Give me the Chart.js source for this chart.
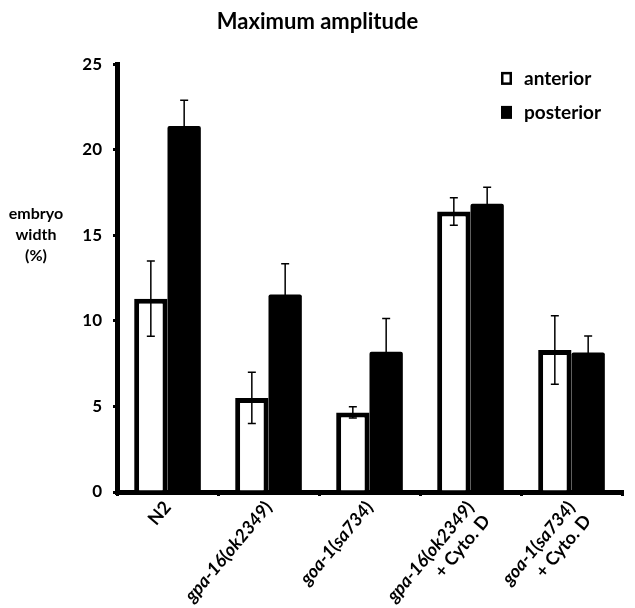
<!DOCTYPE html>
<html>
<head>
<meta charset="utf-8">
<script src="https://cdn.jsdelivr.net/npm/chart.js@4"></script>
<style>
  html, body { margin: 0; padding: 0; background: #fff; }
  #wrap { width: 635px; height: 608px; }
</style>
</head>
<body>
<div id="wrap"><canvas id="amplitudeChart" width="635" height="608"></canvas></div>
<script>
// values (percent of embryo width)
const categories = [
    ['N2'],
    ['gpa-16(ok2349)'],
    ['goa-1(sa734)'],
    ['gpa-16(ok2349)', '+ Cyto. D'],
    ['goa-1(sa734)', '+ Cyto. D']
];
const anterior = [11.3, 5.5, 4.65, 16.4, 8.3];
const anteriorErr = [2.2, 1.5, 0.33, 0.8, 2.0];
const posterior = [21.4, 11.55, 8.2, 16.85, 8.15];
const posteriorErr = [1.5, 1.8, 1.95, 0.97, 0.97];
const yTicks = [0, 5, 10, 15, 20, 25];

const FONT = 'Lato, "Open Sans", sans-serif';

// error bars on top of each bar
const errorBars = {
    id: 'errorBars',
    afterDatasetsDraw(chart) {
        const ctx = chart.ctx;
        const y = chart.scales.y;
        chart.data.datasets.forEach((ds, di) => {
            const meta = chart.getDatasetMeta(di);
            meta.data.forEach((bar, i) => {
                const v = ds.data[i], e = ds.errors[i];
                const top = y.getPixelForValue(v + e);
                const bot = y.getPixelForValue(v - e);
                ctx.save();
                ctx.strokeStyle = '#000';
                ctx.lineWidth = 1.5;
                ctx.beginPath();
                ctx.moveTo(bar.x, top); ctx.lineTo(bar.x, bot);
                ctx.moveTo(bar.x - 4, top); ctx.lineTo(bar.x + 4, top);
                ctx.moveTo(bar.x - 4, bot); ctx.lineTo(bar.x + 4, bot);
                ctx.stroke();
                ctx.restore();
            });
        });
    }
};

// rotated category labels, gene names in italics
function runs(line) {
    if (line.indexOf('(') < 0) return [[line, false]];
    const out = [];
    line.split(/([()])/).forEach(p => {
        if (p) out.push([p, p !== '(' && p !== ')']);
    });
    return out;
}
const xLabels = {
    id: 'xLabels',
    afterDraw(chart) {
        const ctx = chart.ctx;
        const x = chart.scales.x;
        const size = 18, lineH = 21;
        categories.forEach((lines, i) => {
            const px = x.getPixelForValue(i);
            ctx.save();
            ctx.translate(px, x.top + 12);
            ctx.rotate(-50 * Math.PI / 180);
            ctx.fillStyle = '#000';
            ctx.textBaseline = 'middle';
            lines.forEach((line, j) => {
                const parts = runs(line);
                let w = 0;
                parts.forEach(r => {
                    ctx.font = (r[1] ? 'italic ' : '') + 'bold ' + size + 'px ' + FONT;
                    w += ctx.measureText(r[0]).width;
                });
                let cx = -w;
                parts.forEach(r => {
                    ctx.font = (r[1] ? 'italic ' : '') + 'bold ' + size + 'px ' + FONT;
                    ctx.fillText(r[0], cx, j * lineH);
                    cx += ctx.measureText(r[0]).width;
                });
            });
            ctx.restore();
        });
    }
};

// y title (horizontal) and legend inside the plot
const extras = {
    id: 'extras',
    afterDraw(chart) {
        const ctx = chart.ctx;
        const a = chart.chartArea;
        ctx.save();
        ctx.fillStyle = '#000';
        ctx.font = 'bold 16px ' + FONT;
        ctx.textAlign = 'center';
        ctx.textBaseline = 'middle';
        ['embryo', 'width', '(%)'].forEach((t, i) => ctx.fillText(t, 36, a.top + 149 + i * 21));

        ctx.font = 'bold 19px ' + FONT;
        ctx.textAlign = 'left';
        chart.data.datasets.forEach((ds, i) => {
            const cy = a.top + 14 + i * 34;
            const mx = a.right - 121;
            if (ds.backgroundColor === '#fff') {
                ctx.lineWidth = 2.5;
                ctx.strokeStyle = '#000';
                ctx.strokeRect(mx + 1.25, cy - 5.25, 8.5, 10.5);
            } else {
                ctx.fillRect(mx, cy - 6.5, 11, 13);
            }
            ctx.fillText(ds.label, mx + 23, cy);
        });
        ctx.restore();
    }
};

new Chart(document.getElementById('amplitudeChart'), {
    type: 'bar',
    data: {
        labels: categories.map(l => l.join(' ')),
        datasets: [
            {
                label: 'anterior',
                data: anterior,
                errors: anteriorErr,
                backgroundColor: '#fff',
                borderColor: '#000',
                borderWidth: 5,
                borderSkipped: 'bottom',
                categoryPercentage: 0.66,
                barPercentage: 1.0
            },
            {
                label: 'posterior',
                data: posterior,
                errors: posteriorErr,
                backgroundColor: '#000',
                borderColor: '#000',
                borderWidth: 0,
                borderRadius: 2,
                categoryPercentage: 0.66,
                barPercentage: 1.0
            }
        ]
    },
    options: {
        responsive: false,
        animation: false,
        layout: { padding: { left: 13, right: 13, top: 0, bottom: 0 } },
        plugins: {
            legend: { display: false },
            tooltip: { enabled: false },
            title: {
                display: true,
                text: 'Maximum amplitude',
                color: '#000',
                font: { family: FONT, size: 22, weight: 'bold' },
                padding: { top: 9, bottom: 29 }
            }
        },
        scales: {
            x: {
                offset: true,
                grid: { display: true, offset: true, drawOnChartArea: false, drawTicks: true, tickLength: 4, lineWidth: 3, color: '#000' },
                border: { display: true, width: 5, color: '#000' },
                ticks: { display: false },
                afterFit(scale) { scale.height = 116; }
            },
            y: {
                min: 0,
                max: 25,
                afterBuildTicks(scale) { scale.ticks = yTicks.map(v => ({ value: v })); },
                grid: { display: true, drawOnChartArea: false, drawTicks: true, tickLength: 4, lineWidth: 3, color: '#000' },
                border: { display: true, width: 5, color: '#000' },
                ticks: { color: '#000', padding: 11, font: { family: FONT, size: 17, weight: 'bold' } },
                afterFit(scale) { scale.width = 104; }
            }
        }
    },
    plugins: [errorBars, xLabels, extras]
});
</script>
</body>
</html>
